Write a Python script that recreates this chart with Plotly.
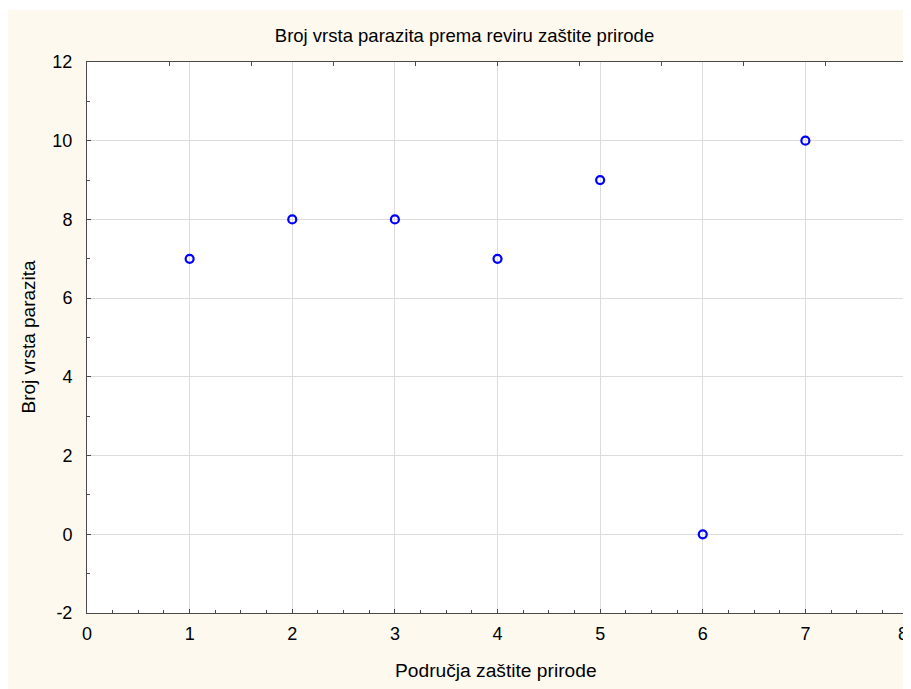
import plotly.graph_objects as go

# Data
regions = [1, 2, 3, 4, 5, 6, 7]
species_count = [7, 8, 8, 7, 9, 0, 10]

x_tick_vals = [0, 1, 2, 3, 4, 5, 6, 7, 8]
x_tick_labels = ["0", "1", "2", "3", "4", "5", "6", "7", "8"]
y_tick_vals = [-2, 0, 2, 4, 6, 8, 10, 12]
y_tick_labels = ["-2", "0", "2", "4", "6", "8", "10", "12"]

title_text = "Broj vrsta parazita prema reviru zaštite prirode"
x_title = "Područja zaštite prirode"
y_title = "Broj vrsta parazita"

# page has an 8px body margin; figure coordinates = page coordinates - 8
W, H = 903, 681
L, R, T, B = 79, 3, 54, 76
pw, ph = W - L - R, H - T - B

def px_x(p):
    return (p - L) / pw

def px_y(p):
    return (H - B - p) / ph

cream = "#fef9ee"
axis_col = "#4a4a4a"
grid_col = "#dcdcdc"
font_family = "Liberation Sans, Arial, sans-serif"

# the last x label sits at the right edge: draw it right-aligned so it stays visible
axis_x_labels = x_tick_labels[:-1] + [""]

fig = go.Figure()
fig.add_trace(go.Scatter(
    x=regions, y=species_count, mode="markers",
    marker=dict(symbol="circle-open", size=8, color="#0000ff",
                line=dict(width=2.2, color="#0000ff")),
    showlegend=False,
))
# invisible trace on top axis so it renders
fig.add_trace(go.Scatter(x=[0, 8], y=[None, None], xaxis="x2", yaxis="y",
                         mode="markers", showlegend=False, hoverinfo="skip"))

fig.update_layout(
    width=W, height=H,
    margin=dict(l=L, r=R, t=T, b=B, pad=0, autoexpand=False),
    paper_bgcolor=cream, plot_bgcolor="white",
    font=dict(family=font_family, color="#000000", size=18),
    title=dict(text=title_text, x=456.5 / W, xanchor="center",
               y=1 - 28 / H, yanchor="middle", yref="container",
               font=dict(size=18.5, family=font_family, color="#000")),
    xaxis=dict(range=[0, 8], tickmode="array", tickvals=x_tick_vals, ticktext=axis_x_labels,
               automargin=False,
               showgrid=True, gridcolor=grid_col,
               gridwidth=1, zeroline=False, showline=True, linecolor=axis_col,
               linewidth=1, mirror=True, ticks="inside", ticklen=4, tickcolor=axis_col,
               minor=dict(dtick=0.25, tick0=0, ticks="inside", ticklen=3, tickcolor=axis_col,
                          showgrid=False),
               tickfont=dict(size=18), ticklabelstandoff=4, ticklabeloverflow="allow"),
    xaxis2=dict(range=[0, 8], overlaying="x", side="top", dtick=0.8, tick0=0,
                automargin=False,
                ticks="inside", ticklen=4, tickcolor=axis_col, showticklabels=False,
                showgrid=False, zeroline=False, showline=False),
    yaxis=dict(range=[-2, 12], tickmode="array", tickvals=y_tick_vals, ticktext=y_tick_labels,
               automargin=False,
               showgrid=True, gridcolor=grid_col,
               gridwidth=1, zeroline=False, showline=True, linecolor=axis_col,
               linewidth=1, mirror="ticks", ticks="inside", ticklen=4, tickcolor=axis_col,
               minor=dict(dtick=1, tick0=0, ticks="inside", ticklen=3, tickcolor=axis_col,
                          showgrid=False),
               tickfont=dict(size=18), ticklabelstandoff=10, ticklabeloverflow="allow"),
    annotations=[
        dict(text=x_tick_labels[-1], xref="x", yref="paper", x=x_tick_vals[-1],
             y=px_y(626), xanchor="right", yanchor="middle", xshift=2, showarrow=False,
             font=dict(size=18, family=font_family)),
        dict(text=x_title, xref="paper", yref="paper", x=px_x(488), y=px_y(663),
             xanchor="center", yanchor="middle", showarrow=False,
             font=dict(size=19.2, family=font_family)),
        dict(text=y_title, xref="paper", yref="paper", x=px_x(20), y=px_y(328.5),
             xanchor="center", yanchor="middle", showarrow=False, textangle=-90,
             font=dict(size=19, family=font_family)),
    ],
    shapes=[
        dict(type="rect", xref="paper", yref="paper", x0=px_x(-5), x1=px_x(W + 5),
             y0=px_y(2), y1=px_y(-5), fillcolor="white", line=dict(width=0)),
    ],
)

fig.write_html("out.html")
